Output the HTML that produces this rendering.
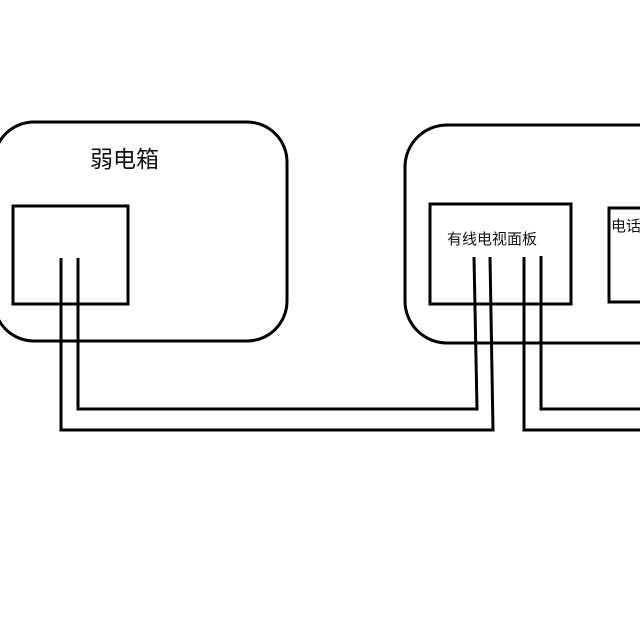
<!DOCTYPE html>
<html><head><meta charset="utf-8"><style>
html,body{margin:0;padding:0;background:#fff;width:640px;height:640px;overflow:hidden}
</style></head><body>
<svg width="640" height="640" viewBox="0 0 640 640" xmlns="http://www.w3.org/2000/svg">
<g fill="none" stroke="#000" stroke-width="3">
<rect x="-6" y="122" width="293" height="219" rx="40"/>
<rect x="13" y="206" width="115" height="98"/>
<rect x="405" y="125" width="280" height="218" rx="42"/>
<rect x="430" y="204" width="141" height="100"/>
<rect x="609" y="208" width="60" height="94"/>
<polyline points="61,258 61,430 493,430 490,257"/>
<polyline points="78,258 78,409 477,409 474,257"/>
<polyline points="524,257 524,430 640,430"/>
<polyline points="541,256 541,409 640,409"/>
</g>
<g font-family="Liberation Sans, Noto Sans CJK SC, sans-serif" fill="#111">
<text x="90" y="167" font-size="23">弱电箱</text>
<text x="447" y="244" font-size="15">有线电视面板</text>
<text x="611" y="231" font-size="15">电话</text>
</g>
</svg>
</body></html>
